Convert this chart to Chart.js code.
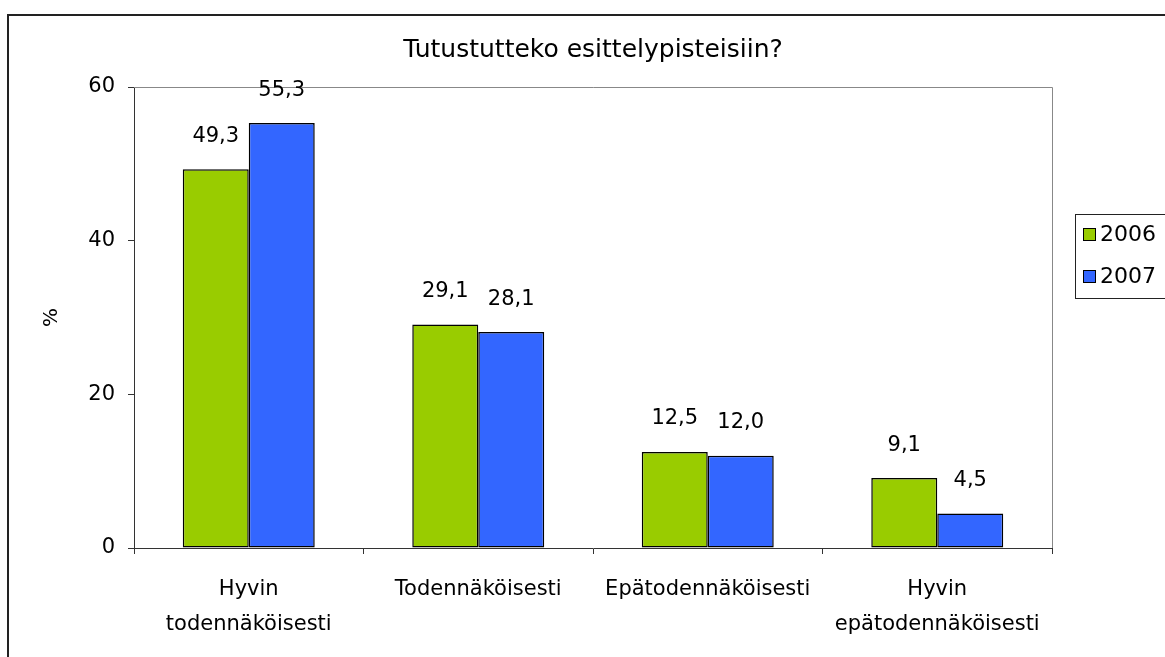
<!DOCTYPE html>
<html>
<head>
<meta charset="utf-8">
<script src="https://cdn.jsdelivr.net/npm/chart.js@4.4.0/dist/chart.umd.min.js"></script>
<style>
  body { margin: 0; background: #fff; }
  #wrap { width: 1165px; height: 657px; }
</style>
</head>
<body>
<div id="wrap"><canvas id="graf"></canvas></div>
<script>
// data
const categories = [['Hyvin', 'todennäköisesti'], 'Todennäköisesti', 'Epätodennäköisesti', ['Hyvin', 'epätodennäköisesti']]
const years = ['2006', '2007']
const values2006 = [49.3, 29.1, 12.5, 9.1]
const values2007 = [55.3, 28.1, 12.0, 4.5]
const yTicks = [0, 20, 40, 60]

Chart.defaults.font.family = 'DejaVu Sans'
Chart.defaults.font.size = 20
Chart.defaults.color = '#000'

// outer frame + grey top/right plot border
const framePlugin = {
    id: 'frame',
    beforeDraw(chart) {
        const c = chart.ctx
        c.save()
        c.fillStyle = '#fff'
        c.fillRect(0, 0, chart.width, chart.height)
        c.strokeStyle = '#222'
        c.lineWidth = 2
        c.strokeRect(8, 15, chart.width + 20, chart.height + 20)
        c.restore()
    },
    beforeDatasetsDraw(chart) {
        const a = chart.chartArea
        const c = chart.ctx
        c.save()
        c.strokeStyle = '#888'
        c.lineWidth = 1
        c.beginPath()
        c.moveTo(a.left, a.top + 0.5)
        c.lineTo(a.right + 0.5, a.top + 0.5)
        c.lineTo(a.right + 0.5, a.bottom)
        c.stroke()
        c.restore()
    }
}

// value labels above the bars, with decimal comma
const labelPlugin = {
    id: 'valueLabels',
    afterDatasetsDraw(chart) {
        const c = chart.ctx
        c.save()
        c.font = '21px "DejaVu Sans"'
        c.fillStyle = '#000'
        c.textAlign = 'center'
        c.textBaseline = 'middle'
        chart.data.datasets.forEach((ds, i) => {
            chart.getDatasetMeta(i).data.forEach((bar, j) => {
                c.fillText(ds.data[j].toFixed(1).replace('.', ','), bar.x, bar.y - 33)
            })
        })
        c.restore()
    }
}

// boxed legend on the right
const legendPlugin = {
    id: 'boxLegend',
    afterDraw(chart) {
        const c = chart.ctx
        c.save()
        c.strokeStyle = '#222'
        c.lineWidth = 1
        c.strokeRect(1075.5, 214.5, 95, 84)
        c.font = '22px "DejaVu Sans"'
        c.textBaseline = 'middle'
        chart.data.datasets.forEach((ds, i) => {
            const y = 234 + i * 42
            c.fillStyle = ds.backgroundColor
            c.fillRect(1083, y - 6, 13, 13)
            c.strokeStyle = '#000'
            c.strokeRect(1083.5, y - 5.5, 12, 12)
            c.fillStyle = '#000'
            c.fillText(ds.label, 1100, y + 1)
        })
        c.restore()
    }
}

const ctx = document.getElementById('graf').getContext('2d')
const chart = new Chart(ctx, {
    type: 'bar',
    data: {
        labels: categories,
        datasets: [{
            label: years[0],
            data: values2006,
            backgroundColor: '#99CC00',
            borderColor: '#000',
            borderWidth: 1.5,
            borderSkipped: false
        }, {
            label: years[1],
            data: values2007,
            backgroundColor: '#3366FF',
            borderColor: '#000',
            borderWidth: 1.5,
            borderSkipped: false
        }]
    },
    options: {
        responsive: true,
        maintainAspectRatio: false,
        animation: false,
        datasets: {
            bar: { categoryPercentage: 0.575, barPercentage: 1.0 }
        },
        layout: { padding: { left: 0, right: 113, top: 0, bottom: 0 } },
        plugins: {
            legend: { display: false },
            tooltip: { enabled: false },
            title: {
                display: true,
                fullSize: false,
                text: 'Tutustutteko esittelypisteisiin?',
                font: { size: 25, weight: 'normal' },
                padding: { top: 35, bottom: 22 }
            }
        },
        scales: {
            x: {
                grid: { drawOnChartArea: false, color: '#333', tickLength: 6, offset: true },
                border: { color: '#333' },
                ticks: { padding: 18, maxRotation: 0, font: { size: 21, lineHeight: 1.667 } },
                afterFit(s) { s.height = 109 }
            },
            y: {
                min: 0,
                max: 60,
                afterBuildTicks(s) { s.ticks = yTicks.map(v => ({ value: v })) },
                grid: { drawOnChartArea: false, color: '#333', tickLength: 6 },
                border: { color: '#333' },
                ticks: { padding: 13, font: { size: 21 } },
                title: { display: true, text: '%', font: { size: 20 }, padding: { top: 40, bottom: 0 } },
                afterFit(s) { s.width = 134 }
            }
        }
    },
    plugins: [framePlugin, labelPlugin, legendPlugin]
})
</script>
</body>
</html>
